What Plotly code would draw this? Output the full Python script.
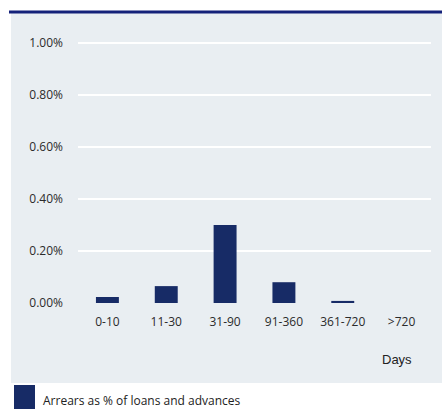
import plotly.graph_objects as go

categories = ["0-10", "11-30", "31-90", "91-360", "361-720", ">720"]
arrears_pct = [0.023, 0.065, 0.30, 0.08, 0.008, 0.0]
y_ticks = [0.0, 0.2, 0.4, 0.6, 0.8, 1.0]
y_tick_labels = ["0.00%", "0.20%", "0.40%", "0.60%", "0.80%", "1.00%"]
series_name = "Arrears as % of loans and advances"

W, H = 442, 409
ml, mr, mt, mb = 78, 11, 41, 106
pw, ph = W - ml - mr, H - mt - mb

def px(x):
    return (x - ml) / pw

def py(y):
    return (H - mb - y) / ph

navy = "#172b66"
panel = "#e9eef2"
txt = "#2b2b2b"

fig = go.Figure()
fig.add_trace(go.Bar(x=categories, y=arrears_pct, marker=dict(color=navy, line=dict(width=0)),
                     width=0.39, name=series_name, showlegend=False))

fig.update_layout(
    width=W, height=H,
    margin=dict(l=ml, r=mr, t=mt, b=mb),
    paper_bgcolor="white",
    plot_bgcolor=panel,
    font=dict(family="Open Sans", size=12, color=txt),
    xaxis=dict(range=[-0.5, 5.5], showgrid=False, zeroline=False, showline=False,
               ticks="", tickfont=dict(size=12, color=txt), ticklabelstandoff=10, fixedrange=True),
    yaxis=dict(range=[0, 1.008], tickvals=y_ticks, ticktext=y_tick_labels, showgrid=True,
               gridcolor="white", gridwidth=2, zeroline=False, showline=False, ticks="",
               ticklabelstandoff=14, tickfont=dict(size=12, color=txt), fixedrange=True),
    shapes=[
        dict(type="rect", xref="paper", yref="paper", x0=px(11), x1=px(442), y0=py(383), y1=py(13),
             fillcolor=panel, line=dict(width=0), layer="below"),
        dict(type="line", xref="paper", yref="paper", x0=px(9), x1=px(442), y0=py(12), y1=py(12),
             line=dict(color="#14217a", width=3)),
        dict(type="rect", xref="paper", yref="paper", x0=px(14), x1=px(35), y0=py(410), y1=py(385),
             fillcolor=navy, line=dict(width=0)),
    ],
    annotations=[
        dict(text="Days", xref="paper", yref="paper", x=px(414), y=py(359), xanchor="right",
             yanchor="middle", showarrow=False, font=dict(family="Liberation Sans", size=13, color="#222")),
        dict(text=series_name, xref="paper", yref="paper", x=px(41), y=py(400), xanchor="left",
             yanchor="middle", showarrow=False, font=dict(family="Open Sans", size=12, color="#222")),
    ],
)

fig.write_html("out.html")
